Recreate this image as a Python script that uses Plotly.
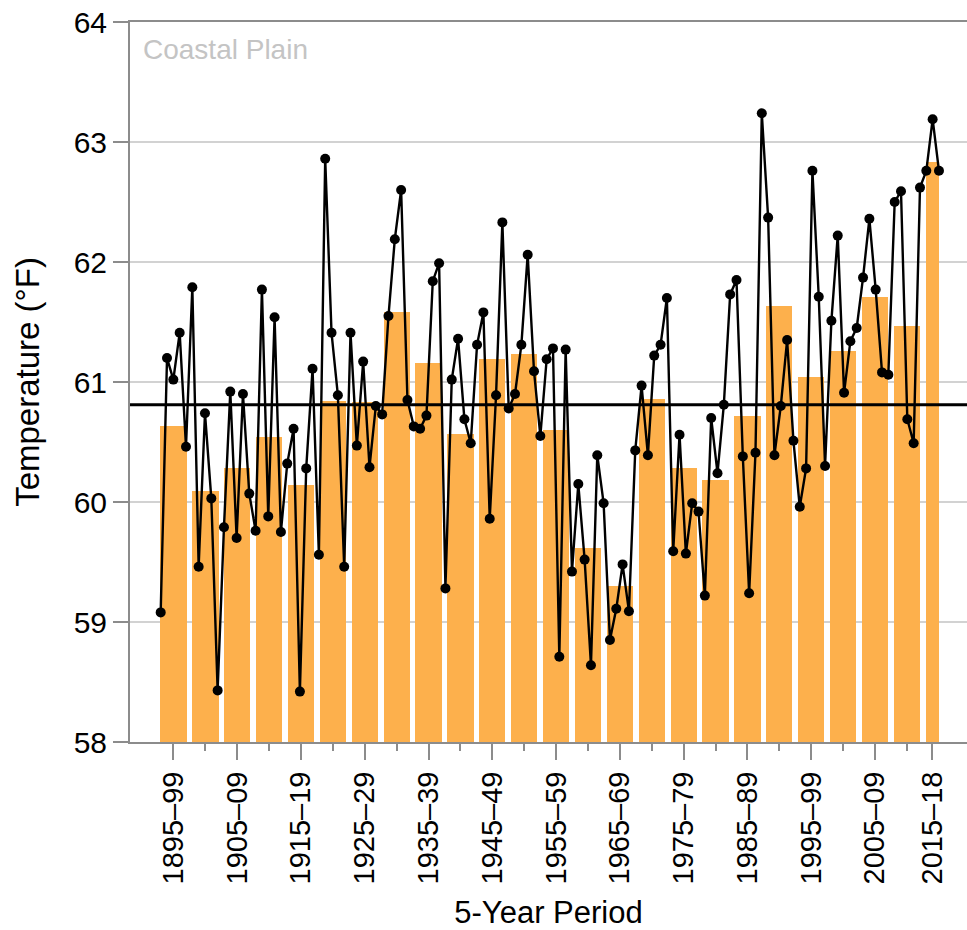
import plotly.graph_objects as go

# ---------------- data ----------------
periods = ["1895–99", "1900–04", "1905–09", "1910–14", "1915–19", "1920–24",
           "1925–29", "1930–34", "1935–39", "1940–44", "1945–49", "1950–54",
           "1955–59", "1960–64", "1965–69", "1970–74", "1975–79", "1980–84",
           "1985–89", "1990–94", "1995–99", "2000–04", "2005–09", "2010–14",
           "2015–18"]
period_start = [1895, 1900, 1905, 1910, 1915, 1920, 1925, 1930, 1935, 1940,
                1945, 1950, 1955, 1960, 1965, 1970, 1975, 1980, 1985, 1990,
                1995, 2000, 2005, 2010, 2015]
period_avg = [60.63, 60.09, 60.28, 60.54, 60.14, 60.84, 60.83, 61.58, 61.16,
              60.57, 61.19, 61.23, 60.60, 59.62, 59.30, 60.86, 60.28, 60.18,
              60.72, 61.63, 61.04, 61.26, 61.71, 61.47, 62.83]

years = list(range(1895, 2019))
annual_temp = [
    59.08, 61.20, 61.02, 61.41, 60.46,   # 1895-99
    61.79, 59.46, 60.74, 60.03, 58.43,   # 1900-04
    59.79, 60.92, 59.70, 60.90, 60.07,   # 1905-09
    59.76, 61.77, 59.88, 61.54, 59.75,   # 1910-14
    60.32, 60.61, 58.42, 60.28, 61.11,   # 1915-19
    59.56, 62.86, 61.41, 60.89, 59.46,   # 1920-24
    61.41, 60.47, 61.17, 60.29, 60.80,   # 1925-29
    60.73, 61.55, 62.19, 62.60, 60.85,   # 1930-34
    60.63, 60.61, 60.72, 61.84, 61.99,   # 1935-39
    59.28, 61.02, 61.36, 60.69, 60.49,   # 1940-44
    61.31, 61.58, 59.86, 60.89, 62.33,   # 1945-49
    60.78, 60.90, 61.31, 62.06, 61.09,   # 1950-54
    60.55, 61.19, 61.28, 58.71, 61.27,   # 1955-59
    59.42, 60.15, 59.52, 58.64, 60.39,   # 1960-64
    59.99, 58.85, 59.11, 59.48, 59.09,   # 1965-69
    60.43, 60.97, 60.39, 61.22, 61.31,   # 1970-74
    61.70, 59.59, 60.56, 59.57, 59.99,   # 1975-79
    59.92, 59.22, 60.70, 60.24, 60.81,   # 1980-84
    61.73, 61.85, 60.38, 59.24, 60.41,   # 1985-89
    63.24, 62.37, 60.39, 60.80, 61.35,   # 1990-94
    60.51, 59.96, 60.28, 62.76, 61.71,   # 1995-99
    60.30, 61.51, 62.22, 60.91, 61.34,   # 2000-04
    61.45, 61.87, 62.36, 61.77, 61.08,   # 2005-09
    61.06, 62.50, 62.59, 60.69, 60.49,   # 2010-14
    62.62, 62.76, 63.19, 62.76,          # 2015-18
]
long_term_avg = 60.81
y_ticks = [58, 59, 60, 61, 62, 63, 64]

# ---------------- layout helpers ----------------
FONT = "Liberation Sans, Arial, Helvetica, sans-serif"
AXIS_GREY = "#8c8c8c"
BAR_COLOR = "#FDB04C"

# bar centres: middle of each (5-year) period; last partial period is narrower
bar_x = [s + 2 for s in period_start[:-1]] + [period_start[-1] + 1]
bar_w = [4.12] * (len(period_start) - 1) + [2.04]

fig = go.Figure()

fig.add_trace(go.Bar(
    x=bar_x, y=period_avg, width=bar_w,
    marker=dict(color=BAR_COLOR, line=dict(width=0)),
    xaxis="x", yaxis="y", hoverinfo="x+y", showlegend=False,
))

fig.add_trace(go.Scatter(
    x=years, y=annual_temp, mode="lines+markers",
    line=dict(color="black", width=2.4),
    marker=dict(color="black", size=10),
    xaxis="x2", yaxis="y", showlegend=False,
))

fig.add_shape(type="line", xref="paper", x0=0, x1=1, yref="y",
              y0=long_term_avg, y1=long_term_avg,
              line=dict(color="black", width=3), layer="above")

fig.add_annotation(text="Coastal Plain", xref="paper", yref="paper",
                   x=0, y=1, xanchor="left", yanchor="middle",
                   xshift=11, yshift=-27, showarrow=False,
                   font=dict(family=FONT, size=28, color="#c4c4c4"))

fig.update_layout(
    width=967, height=930, autosize=False,
    margin=dict(l=130, r=0, t=22, b=188),
    plot_bgcolor="white", paper_bgcolor="white",
    font=dict(family=FONT, color="black"),
    bargap=0,
    xaxis=dict(
        range=[1890.18, 2021.43],
        tickmode="array", tickvals=bar_x[::2], ticktext=periods[::2],
        tickangle=-90, tickfont=dict(size=29, family=FONT),
        ticks="outside", ticklen=16, tickwidth=2, tickcolor=AXIS_GREY,
        minor=dict(tickmode="array", tickvals=bar_x[1::2], ticks="outside",
                   ticklen=7, tickwidth=2, tickcolor=AXIS_GREY, showgrid=False),
        showline=True, linecolor=AXIS_GREY, linewidth=2, mirror=True,
        showgrid=False, zeroline=False,
        title=dict(text="5-Year Period", font=dict(size=31, family=FONT),
                   standoff=20),
    ),
    xaxis2=dict(
        range=[1890.15, 2022.43], overlaying="x", anchor="y",
        visible=False, showgrid=False, zeroline=False,
    ),
    yaxis=dict(
        range=[58, 64], tickmode="array", tickvals=y_ticks,
        tickfont=dict(size=30, family=FONT),
        ticks="outside", ticklen=15, tickwidth=2, tickcolor=AXIS_GREY,
        showline=True, linecolor=AXIS_GREY, linewidth=2,
        showgrid=True, gridcolor="#d2d2d2", gridwidth=2, zeroline=False,
        title=dict(text="Temperature (°F)", font=dict(size=33, family=FONT),
                   standoff=24),
    ),
)

fig.write_html("out.html")
